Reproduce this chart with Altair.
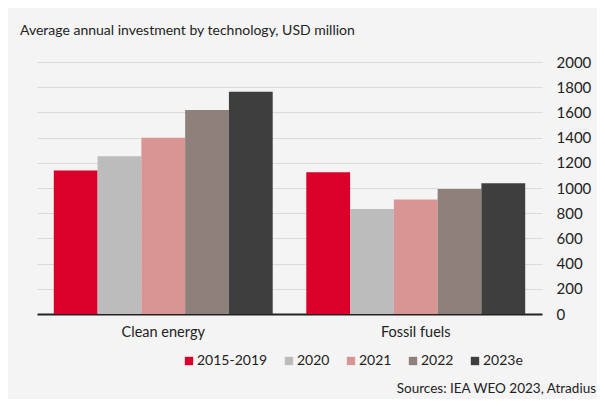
import altair as alt
import pandas as pd

categories = ["Clean energy", "Fossil fuels"]
periods = ["2015-2019", "2020", "2021", "2022", "2023e"]
clean_energy = [1138, 1252, 1398, 1620, 1764]
fossil_fuels = [1125, 834, 908, 993, 1038]
colors = ["#da0029", "#bcbcbc", "#d99594", "#8e817b", "#3e3e3e"]
y_ticks = [0, 200, 400, 600, 800, 1000, 1200, 1400, 1600, 1800, 2000]

subtitle = "Average annual investment by technology, USD million"
source = "Sources: IEA WEO 2023, Atradius"

rows = []
for cat, vals in zip(categories, [clean_energy, fossil_fuels]):
    for p, v in zip(periods, vals):
        rows.append({"category": cat, "period": p, "value": v})
df = pd.DataFrame(rows)

FONT = "Lato"

bars = alt.Chart(df).mark_bar().encode(
    x=alt.X("category:N", sort=categories,
            scale=alt.Scale(paddingInner=0.133, paddingOuter=0.0665),
            axis=alt.Axis(title=None, labelAngle=0, ticks=False, domain=True,
                          domainColor="#222222", domainWidth=2,
                          labelPadding=11, labelFontSize=14.5, labelFont=FONT,
                          labelColor="#222222")),
    xOffset=alt.XOffset("period:N", sort=periods, scale=alt.Scale(paddingInner=0, paddingOuter=0)),
    y=alt.Y("value:Q", scale=alt.Scale(domain=[0, 2000], nice=False),
            axis=alt.Axis(title=None, orient="right", values=y_ticks, format="d",
                          ticks=False, domain=False, grid=True, gridColor="#dadada",
                          gridWidth=1, labelPadding=14, labelFontSize=15,
                          labelFont=FONT, labelColor="#222222", labelAlign="left")),
    color=alt.Color("period:N", sort=periods,
                    scale=alt.Scale(domain=periods, range=colors),
                    legend=alt.Legend(title=None, orient="none", direction="horizontal",
                                      legendX=145, legendY=292,
                                      symbolType="square", symbolSize=70,
                                      symbolStrokeWidth=0,
                                      labelFont=FONT, labelFontSize=14,
                                      labelColor="#222222", labelOffset=1,
                                      columnPadding=14)),
)

sub = alt.Chart(pd.DataFrame({"t": [subtitle]})).mark_text(
    align="left", baseline="alphabetic", font=FONT, fontSize=14, color="#222222"
).encode(x=alt.value(-17), y=alt.value(-27), text="t:N")

src = alt.Chart(pd.DataFrame({"t": [source]})).mark_text(
    align="right", baseline="middle", font=FONT, fontSize=13.5, color="#222222"
).encode(x=alt.value(559), y=alt.value(327), text="t:N")

chart = alt.layer(bars, sub, src).properties(
    width=505, height=252,
    autosize=alt.AutoSizeParams(type="none"),
    padding={"left": 29, "top": 54, "right": 55, "bottom": 85},
    background="#f4f4f4",
).configure_view(stroke=None)

chart.save("out.html", embed_options={"renderer": "svg", "actions": False})
